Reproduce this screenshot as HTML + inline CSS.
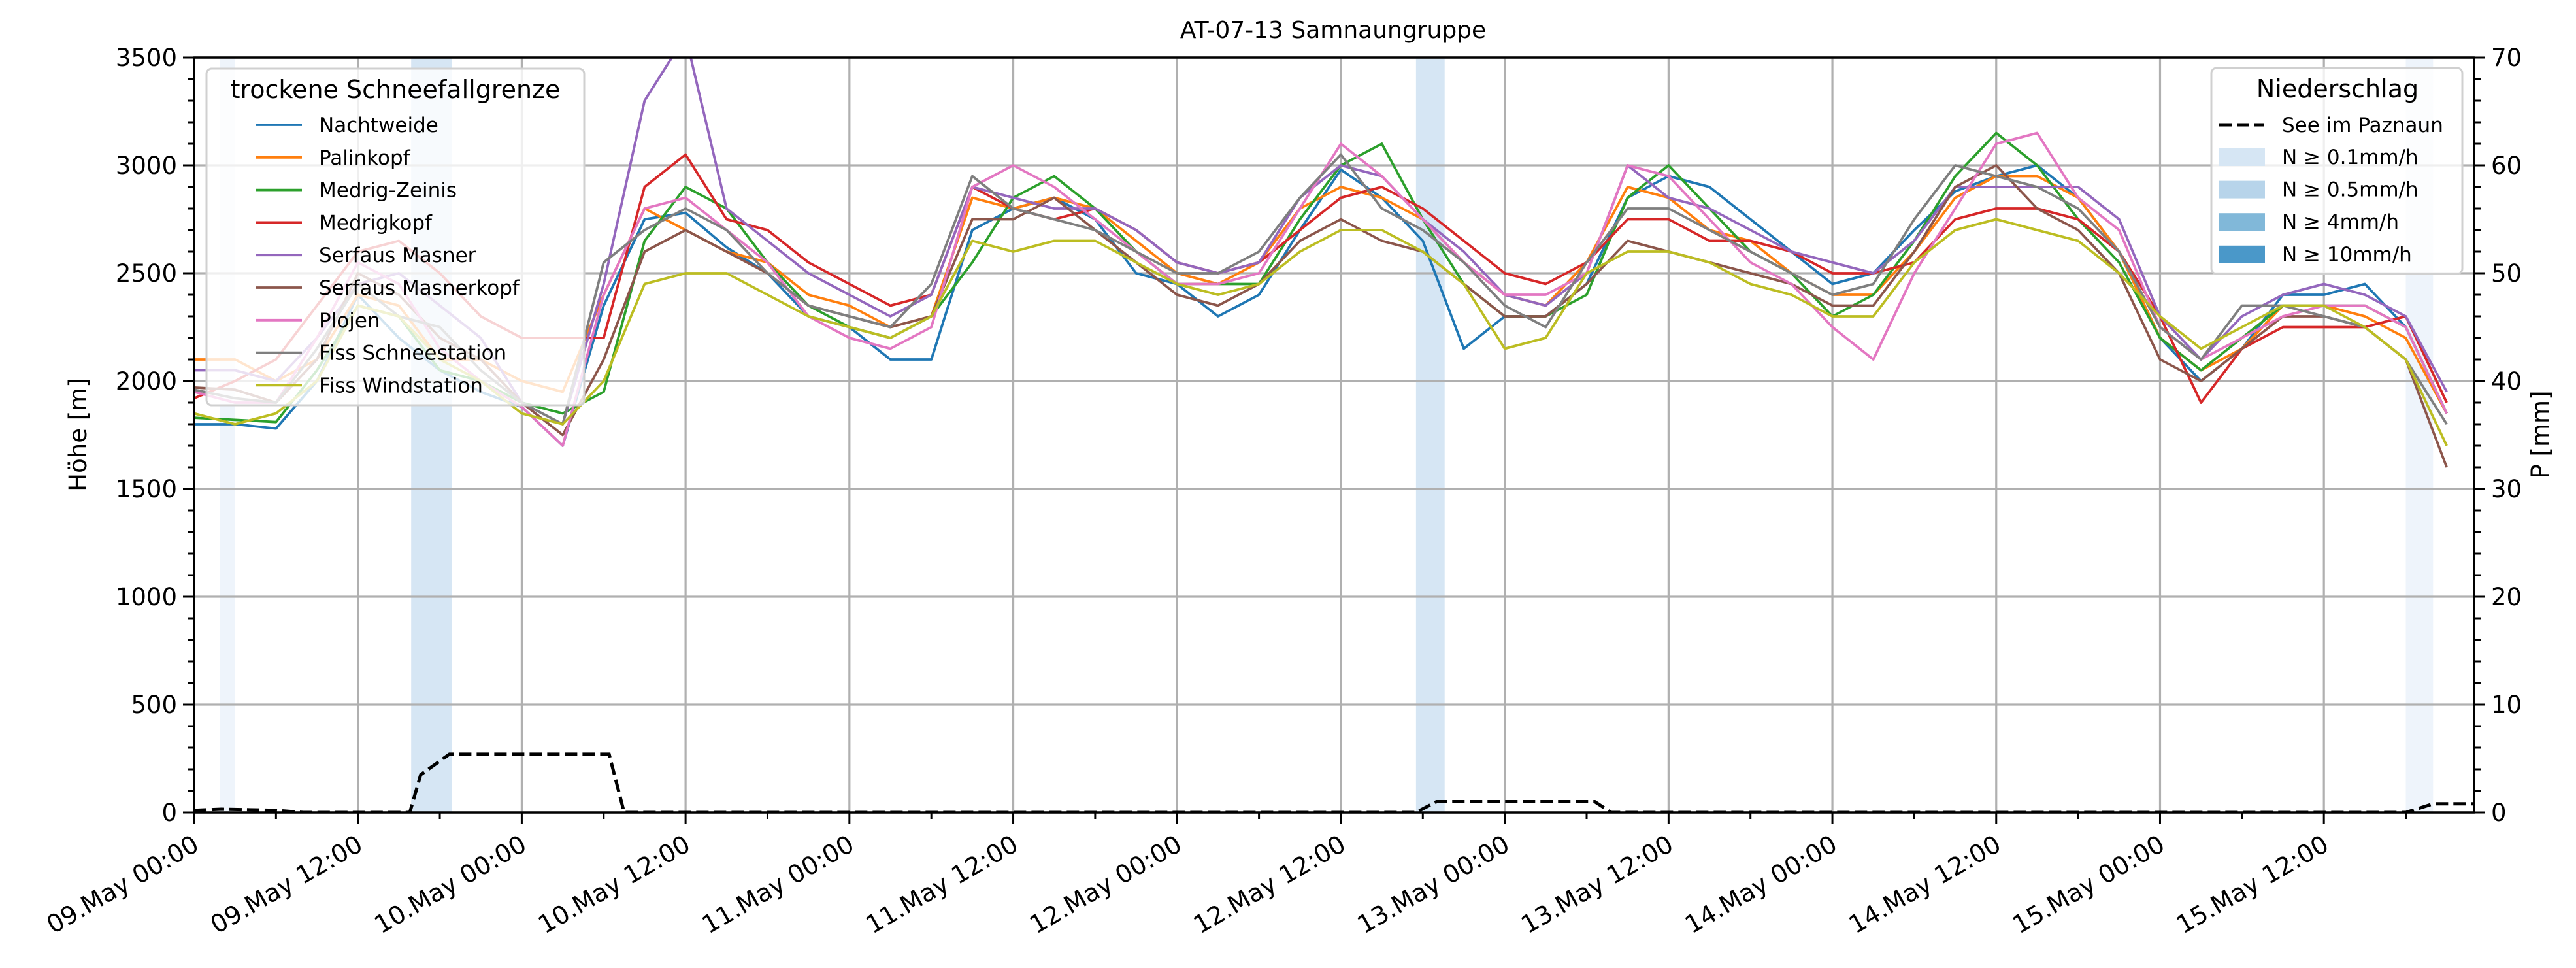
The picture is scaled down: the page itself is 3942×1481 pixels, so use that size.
<!DOCTYPE html>
<html><head><meta charset="utf-8"><style>
html,body{margin:0;padding:0;background:#fff;}
svg{display:block;font-family:"DejaVu Sans","Liberation Sans",sans-serif;}
</style></head><body>
<svg id="chart" width="3942" height="1481" viewBox="0 0 3942 1481" xmlns="http://www.w3.org/2000/svg">
<defs><clipPath id="plotclip"><rect x="297" y="88" width="3489" height="1155"/></clipPath></defs>
<rect x="0" y="0" width="3942" height="1481" fill="#fff"/>
<text x="2040" y="58" font-size="36" text-anchor="middle">AT-07-13 Samnaungruppe</text>
<g id="bands" clip-path="url(#plotclip)"></g>
<g id="grid"></g>
<g id="lines" clip-path="url(#plotclip)"></g>
<g id="precip" clip-path="url(#plotclip)"></g>
<g id="axes"></g>
<g id="legends"></g>
</svg>
<script>
const hoursStep = 3;
const seriesNames = ["Nachtweide","Palinkopf","Medrig-Zeinis","Medrigkopf","Serfaus Masner","Serfaus Masnerkopf","Plojen","Fiss Schneestation","Fiss Windstation"];
const seriesColors = ["#1f77b4","#ff7f0e","#2ca02c","#d62728","#9467bd","#8c564b","#e377c2","#7f7f7f","#bcbd22"];
const nachtweide = [1800,1800,1780,2000,2400,2200,2050,1950,1880,1700,2350,2750,2780,2620,2500,2300,2250,2100,2100,2700,2800,2850,2750,2500,2450,2300,2400,2700,2980,2850,2650,2150,2300,2300,2450,2850,2950,2900,2750,2600,2450,2500,2700,2880,2950,3000,2850,2600,2200,2000,2150,2400,2400,2450,2250,1850];
const palinkopf = [2100,2100,2000,2100,2400,2350,2100,2100,2000,1950,2400,2800,2700,2600,2550,2400,2350,2250,2300,2850,2800,2850,2800,2650,2500,2450,2550,2800,2900,2850,2750,2550,2400,2350,2550,2900,2850,2700,2650,2500,2400,2400,2600,2850,2950,2950,2850,2600,2200,2050,2150,2350,2350,2300,2200,1850];
const medrigZeinis = [1830,1820,1810,2050,2350,2300,2050,2000,1900,1850,1950,2650,2900,2800,2550,2350,2250,2200,2300,2550,2850,2950,2800,2600,2450,2450,2450,2750,3000,3100,2750,2450,2300,2300,2400,2850,3000,2800,2600,2500,2300,2400,2650,2950,3150,3000,2750,2550,2200,2050,2200,2350,2350,2350,2250,1850];
const medrigkopf = [1920,2000,2100,2350,2600,2650,2500,2300,2200,2200,2200,2900,3050,2750,2700,2550,2450,2350,2400,2900,2800,2750,2800,2700,2550,2500,2550,2700,2850,2900,2800,2650,2500,2450,2550,2750,2750,2650,2650,2600,2500,2500,2550,2750,2800,2800,2750,2600,2300,1900,2150,2250,2250,2250,2300,1900];
const serfausMasner = [2050,2050,2000,2200,2450,2500,2350,2200,1900,1800,2450,3300,3600,2800,2650,2500,2400,2300,2400,2900,2850,2800,2800,2700,2550,2500,2550,2850,3000,2950,2750,2600,2400,2350,2500,3000,2850,2800,2700,2600,2550,2500,2650,2900,2900,2900,2900,2750,2300,2100,2300,2400,2450,2400,2300,1950];
const serfausMasnerkopf = [1970,1960,1900,2100,2500,2400,2200,2100,1900,1750,2100,2600,2700,2600,2500,2350,2300,2250,2300,2750,2750,2850,2700,2550,2400,2350,2450,2650,2750,2650,2600,2450,2300,2300,2450,2650,2600,2550,2500,2450,2350,2350,2600,2900,3000,2800,2700,2500,2100,2000,2150,2300,2300,2250,2100,1600];
const plojen = [1950,1900,1900,2200,2550,2450,2150,2000,1880,1700,2400,2800,2850,2700,2550,2300,2200,2150,2250,2900,3000,2900,2750,2600,2450,2450,2500,2800,3100,2950,2750,2550,2400,2400,2500,3000,2950,2750,2550,2450,2250,2100,2500,2800,3100,3150,2850,2700,2250,2100,2200,2300,2350,2350,2250,1850];
const fissSchneestation = [1960,1920,1900,2150,2450,2300,2250,2050,1900,1800,2550,2700,2800,2700,2500,2350,2300,2250,2450,2950,2800,2750,2700,2600,2500,2500,2600,2850,3050,2800,2700,2550,2350,2250,2550,2800,2800,2700,2600,2500,2400,2450,2750,3000,2950,2900,2800,2600,2250,2100,2350,2350,2300,2250,2100,1800];
const fissWindstation = [1850,1800,1850,2000,2350,2300,2100,2000,1850,1800,2000,2450,2500,2500,2400,2300,2250,2200,2300,2650,2600,2650,2650,2550,2450,2400,2450,2600,2700,2700,2600,2450,2150,2200,2500,2600,2600,2550,2450,2400,2300,2300,2550,2700,2750,2700,2650,2500,2300,2150,2250,2350,2350,2250,2100,1700];
const allSeries = [nachtweide,palinkopf,medrigZeinis,medrigkopf,serfausMasner,serfausMasnerkopf,plojen,fissSchneestation,fissWindstation];
const precipHours = [0,2,6,8,15.8,16.6,18.7,30.4,31.5,89.5,91,102.6,103.8,162,164,167];
const precipValues = [0.2,0.3,0.2,0,0,3.5,5.4,5.4,0,0,1,1,0,0,0.8,0.8];
const bandStart = [1.9,15.9,89.5,162];
const bandEnd = [3.0,18.9,91.6,164];
const bandLevel = [0,1,1,0];
const xTickLabels = ["09.May 00:00","09.May 12:00","10.May 00:00","10.May 12:00","11.May 00:00","11.May 12:00","12.May 00:00","12.May 12:00","13.May 00:00","13.May 12:00","14.May 00:00","14.May 12:00","15.May 00:00","15.May 12:00"];
const yTicks = [0,500,1000,1500,2000,2500,3000,3500];
const y2Ticks = [0,10,20,30,40,50,60,70];
const precipLegendLabels = ["N ≥ 0.1mm/h","N ≥ 0.5mm/h","N ≥ 4mm/h","N ≥ 10mm/h"];
const precipLegendColors = ["#d6e6f4","#b7d4ea","#81b8d9","#4a98c9"];

const X0=297,X1=3786,Y0=1243,Y1=88,HMAX=167;
const xs = h => X0 + h*(X1-X0)/HMAX;
const ys = v => Y0 - v*(Y0-Y1)/3500;
const ys2 = v => Y0 - v*(Y0-Y1)/70;
const NS="http://www.w3.org/2000/svg";
function mk(tag,attrs,parent,text){const e=document.createElementNS(NS,tag);for(const k in attrs)e.setAttribute(k,attrs[k]);if(text!==undefined)e.textContent=text;parent.appendChild(e);return e;}
const gB=document.getElementById('bands'),gG=document.getElementById('grid'),gL=document.getElementById('lines'),gP=document.getElementById('precip'),gA=document.getElementById('axes'),gLg=document.getElementById('legends');
const bandFill=["#eef4fb","#d6e6f4"];
bandStart.forEach((s,i)=>{
  const r=mk('rect',{x:xs(s),y:Y1,width:xs(bandEnd[i])-xs(s),height:Y0-Y1,fill:bandFill[bandLevel[i]]},gB);
  
  
});
xTickLabels.forEach((l,i)=>{const x=xs(i*12);mk('line',{x1:x,x2:x,y1:Y1,y2:Y0,stroke:'#b0b0b0','stroke-width':3.2},gG);});
yTicks.forEach(v=>{mk('line',{x1:X0,x2:X1,y1:ys(v),y2:ys(v),stroke:'#b0b0b0','stroke-width':3.2},gG);});
allSeries.forEach((arr,si)=>{
  const pts=arr.map((v,i)=>xs(i*hoursStep).toFixed(1)+','+ys(v).toFixed(1)).join(' ');
  const p=mk('polyline',{points:pts,fill:'none',stroke:seriesColors[si],'stroke-width':3.8,'stroke-linejoin':'round'},gL);
  
  
});
{const pts=precipHours.map((h,i)=>xs(h).toFixed(1)+','+ys2(precipValues[i]).toFixed(1)).join(' ');
 const p=mk('polyline',{points:pts,fill:'none',stroke:'#000','stroke-width':5,'stroke-dasharray':'19,8'},gP);
 
 }
mk('rect',{x:X0,y:Y1,width:X1-X0,height:Y0-Y1,fill:'none',stroke:'#000','stroke-width':3.5},gA);
for(let h=0;h<=HMAX;h+=6){const x=xs(h);const major=h%12===0;mk('line',{x1:x,x2:x,y1:Y0,y2:Y0+(major?17:10),stroke:'#000','stroke-width':3},gA);}
xTickLabels.forEach((l,i)=>{const x=xs(i*12)-4;const y=Y0+32;const t=mk('text',{x:x,y:y,'font-size':38,'text-anchor':'end','dominant-baseline':'hanging',transform:`rotate(-30 ${x} ${y})`},gA,l);
 
 });
for(let v=0;v<=3500;v+=100){const y=ys(v);const major=v%500===0;mk('line',{x1:X0,x2:X0-(major?17:10),y1:y,y2:y,stroke:'#000','stroke-width':3},gA);}
yTicks.forEach(v=>{const t=mk('text',{x:X0-26,y:ys(v)+13,'font-size':37,'text-anchor':'end'},gA,String(v));
 
 });
for(let v=0;v<=70;v+=2){const y=ys2(v);const major=v%10===0;mk('line',{x1:X1,x2:X1+(major?17:10),y1:y,y2:y,stroke:'#000','stroke-width':3},gA);}
y2Ticks.forEach(v=>{const t=mk('text',{x:X1+26,y:ys2(v)+13,'font-size':37,'text-anchor':'start'},gA,String(v));
 
 });
{const t=mk('text',{x:132,y:665,'font-size':37,'text-anchor':'middle',transform:'rotate(-90 132 665)'},gA,'Höhe [m]');
 
 const t2=mk('text',{x:3900,y:665,'font-size':37,'text-anchor':'middle',transform:'rotate(-90 3900 665)'},gA,'P [mm]');
 }
{const g=mk('g',{},gLg);
 mk('rect',{x:316,y:105,width:578,height:515,rx:8,fill:'#fff','fill-opacity':0.8,stroke:'#d0d0d0','stroke-width':3},g);
 mk('text',{x:605,y:150,'font-size':38,'text-anchor':'middle'},g,'trockene Schneefallgrenze');
 seriesNames.forEach((n,i)=>{const y=191+i*49.8;
  mk('line',{x1:391,x2:462,y1:y,y2:y,stroke:seriesColors[i],'stroke-width':3.8},g);
  const t=mk('text',{x:488,y:y+11,'font-size':31},g,n);
  
  });}
{const g=mk('g',{},gLg);
 mk('rect',{x:3384,y:104,width:384,height:315,rx:8,fill:'#fff','fill-opacity':0.8,stroke:'#d0d0d0','stroke-width':3},g);
 mk('text',{x:3577,y:149,'font-size':38,'text-anchor':'middle'},g,'Niederschlag');
 mk('line',{x1:3396,x2:3464,y1:191,y2:191,stroke:'#000','stroke-width':5,'stroke-dasharray':'19,8'},g);
 const t0=mk('text',{x:3492,y:202,'font-size':31},g,'See im Paznaun');
 
 precipLegendLabels.forEach((l,i)=>{const y=240+i*49.6;
  mk('rect',{x:3395,y:y-13,width:71,height:27,fill:precipLegendColors[i]},g);
  const t=mk('text',{x:3492,y:y+11,'font-size':31},g,l);
  
  });}
</script>
</body></html>
